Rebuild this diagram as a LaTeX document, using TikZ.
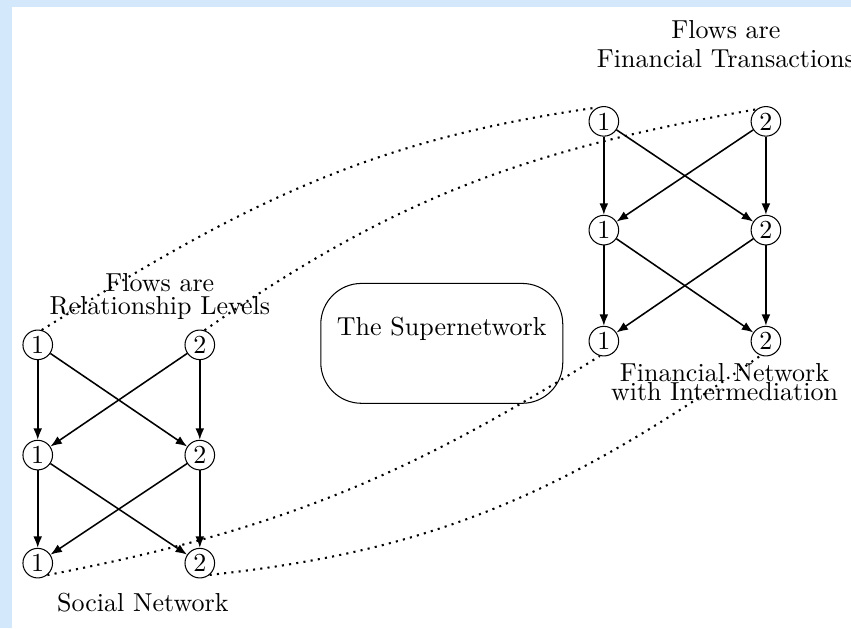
\documentclass[tikz,border=0pt]{standalone}
\usepackage{tikz}
\usepackage{xcolor}
\usetikzlibrary{arrows.meta}
\definecolor{framebg}{RGB}{212,232,252}

\begin{document}
\begin{tikzpicture}[
    level/.style={circle, draw, inner sep=0pt, minimum size=0.4cm},
    flow/.style={->, >={Latex[length=4.4pt, width=3.4pt]}, semithick},
    link/.style={dotted, thick},
    caption/.style={align=center, inner sep=0pt}
]

% page frame
\useasboundingbox (0,0) rectangle (11.50,-8.49);
\fill[framebg] (0,0) rectangle (11.50,-8.49);
\fill[white] (0.16,-0.09) rectangle (11.50,-8.49);

% Social network
\node[level] (sa1) at (0.51,-4.66) {1};
\node[level] (sa2) at (2.70,-4.66) {2};
\node[level] (sb1) at (0.51,-6.15) {1};
\node[level] (sb2) at (2.70,-6.15) {2};
\node[level] (sc1) at (0.51,-7.61) {1};
\node[level] (sc2) at (2.70,-7.61) {2};

\draw[flow] (sa1) -- (sb1);
\draw[flow] (sa1) -- (sb2);
\draw[flow] (sa2) -- (sb1);
\draw[flow] (sa2) -- (sb2);
\draw[flow] (sb1) -- (sc1);
\draw[flow] (sb1) -- (sc2);
\draw[flow] (sb2) -- (sc1);
\draw[flow] (sb2) -- (sc2);

\node[caption] (relflows) at (2.16,-4.01) {Flows are\\[-3.2pt]Relationship Levels};
\node[caption, anchor=base] (social) at (1.93,-8.26) {Social Network};

% Financial network
\node[level] (fa1) at (8.16,-1.64) {1};
\node[level] (fa2) at (10.35,-1.64) {2};
\node[level] (fb1) at (8.16,-3.11) {1};
\node[level] (fb2) at (10.35,-3.11) {2};
\node[level] (fc1) at (8.16,-4.61) {1};
\node[level] (fc2) at (10.35,-4.61) {2};

\draw[flow] (fa1) -- (fb1);
\draw[flow] (fa1) -- (fb2);
\draw[flow] (fa2) -- (fb1);
\draw[flow] (fa2) -- (fb2);
\draw[flow] (fb1) -- (fc1);
\draw[flow] (fb1) -- (fc2);
\draw[flow] (fb2) -- (fc1);
\draw[flow] (fb2) -- (fc2);

\node[caption] (finflows) at (9.81,-0.60) {Flows are\\[-0.8pt]Financial Transactions};
\node[caption] (financial) at (9.79,-5.17) {Financial Network\\[-4.7pt]with Intermediation};

% The supernetwork in the middle
\node[draw, rounded corners=0.55cm, minimum width=3.27cm, minimum height=1.62cm,
      text height=7pt, text depth=13pt] (super) at (5.97,-4.64) {The Supernetwork};

% dotted links between the two networks
\draw[link] (sa1.75) to[out=32, in=188] (fa1.115);
\draw[link] (sa2.72) to[out=35, in=190] (fa2.128);
\draw[link] (sc1.-51) to[out=11, in=212] (fc1.-105);
\draw[link] (sc2.-50) to[out=6, in=215] (fc2.-110);

\end{tikzpicture}
\end{document}
